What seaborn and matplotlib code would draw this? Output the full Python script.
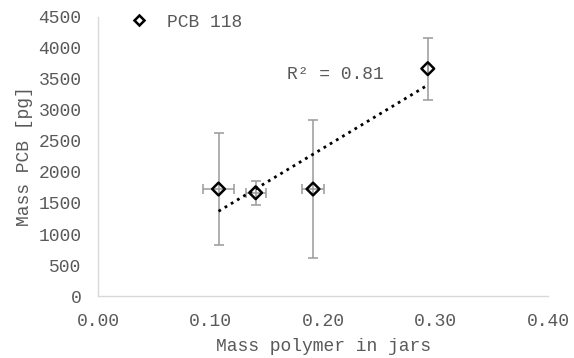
import matplotlib
matplotlib.use("Agg")
import matplotlib.pyplot as plt
import seaborn as sns
import pandas as pd
from matplotlib.lines import Line2D

# values
mass_polymer = [0.107, 0.140, 0.191, 0.293]
mass_pcb = [1725, 1665, 1725, 3665]
pcb_err = [910, 190, 1105, 500]
polymer_err = [0.014, 0.009, 0.010, 0.0]
series_name = "PCB 118"
r2_label = "R² = 0.81"

df = pd.DataFrame({"x": mass_polymer, "y": mass_pcb})

sns.set_style("white")
plt.rcParams["font.family"] = ["Liberation Mono", "DejaVu Sans"]
grey = "#595959"

fig = plt.figure(figsize=(5.74, 3.58), dpi=100)
ax = fig.add_axes([0.171, 0.173, 0.784, 0.78])

ax.errorbar(mass_polymer, mass_pcb, yerr=pcb_err, xerr=polymer_err,
            fmt="none", ecolor="#9a9a9a", elinewidth=1.1, capsize=3.5,
            capthick=1.1, zorder=2)
sns.regplot(data=df, x="x", y="y", scatter=False, ci=None, ax=ax,
            line_kws=dict(color="black", lw=2, linestyle=(0, (1, 1.6))),
            truncate=True)
sns.scatterplot(data=df, x="x", y="y", marker="D", s=42, facecolor="none",
                edgecolor="black", linewidth=1.8, ax=ax, zorder=4)

ax.set_xlim(0, 0.40)
ax.set_ylim(0, 4500)
ax.set_xticks([0.0, 0.1, 0.2, 0.3, 0.4])
ax.set_xticklabels([f"{v:.2f}" for v in [0.0, 0.1, 0.2, 0.3, 0.4]])
ax.set_yticks(range(0, 4501, 500))
ax.tick_params(colors=grey, labelsize=13, length=0)
ax.tick_params(axis="x", pad=12)
ax.tick_params(axis="y", pad=12)
ax.set_xlabel("Mass polymer in jars", color=grey, fontsize=13, labelpad=6)
ax.set_ylabel("Mass PCB [pg]", color=grey, fontsize=13, labelpad=4)

for s in ["top", "right"]:
    ax.spines[s].set_visible(False)
for s in ["left", "bottom"]:
    ax.spines[s].set_color("#d9d9d9")
    ax.spines[s].set_linewidth(1)

ax.text(0.168, 3570, r2_label, color=grey, fontsize=13, va="center")

handle = Line2D([], [], marker="D", linestyle="none", markerfacecolor="white",
                markeredgecolor="black", markeredgewidth=1.8, markersize=5.5)
leg = ax.legend([handle], [series_name], loc="upper left", frameon=False,
                fontsize=13, bbox_to_anchor=(0.025, 1.07), handletextpad=0.8,
                handlelength=1.5)
for t in leg.get_texts():
    t.set_color(grey)

fig.savefig("out.png", dpi=100)
